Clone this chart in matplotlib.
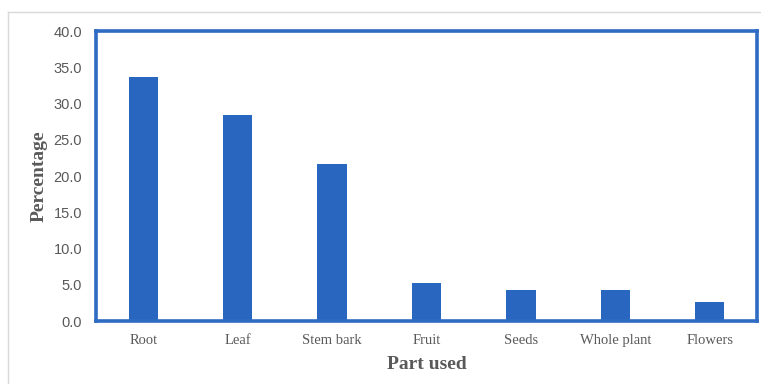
import matplotlib
matplotlib.use("Agg")
import matplotlib.pyplot as plt
from matplotlib.lines import Line2D

parts = ["Root", "Leaf", "Stem bark", "Fruit", "Seeds", "Whole plant", "Flowers"]
percent = [33.6, 28.4, 21.6, 5.2, 4.3, 4.3, 2.6]
yticks = [0, 5, 10, 15, 20, 25, 30, 35, 40]

bar_color = "#2966C0"
frame_color = "#2F6BC3"
text_gray = "#595959"

fig = plt.figure(figsize=(7.61, 3.84), dpi=100)
ax = fig.add_axes([0.1262, 0.164, 0.8685, 0.755])

x = range(len(parts))
ax.bar(x, percent, width=0.31, color=bar_color, zorder=2)

ax.set_xlim(-0.5, len(parts) - 0.5)
ax.set_ylim(0, 40)
ax.set_yticks(yticks)
ax.set_yticklabels([f"{v:.1f}" for v in yticks], fontsize=10.5,
                   family="Liberation Sans", color=text_gray)
ax.set_xticks(list(x))
ax.set_xticklabels(parts, fontsize=10.5, family="Liberation Serif", color=text_gray)
ax.tick_params(length=0, pad=9)
ax.tick_params(axis="y", pad=10)

for s in ax.spines.values():
    s.set_color(frame_color)
    s.set_linewidth(2.6)

ax.set_xlabel("Part used", fontsize=14, fontweight="bold",
              family="Liberation Serif", color=text_gray, labelpad=7)
ax.set_ylabel("Percentage", fontsize=14, fontweight="bold",
              family="Liberation Serif", color=text_gray, labelpad=4)

# light chart-area border along the top and left
fig.add_artist(Line2D([8 / 761, 1.0], [1 - 12 / 384, 1 - 12 / 384],
                      transform=fig.transFigure, color="#D9D9D9", lw=1))
fig.add_artist(Line2D([8 / 761, 8 / 761], [0, 1 - 12 / 384],
                      transform=fig.transFigure, color="#D9D9D9", lw=1))

fig.savefig("out.png", dpi=100)
